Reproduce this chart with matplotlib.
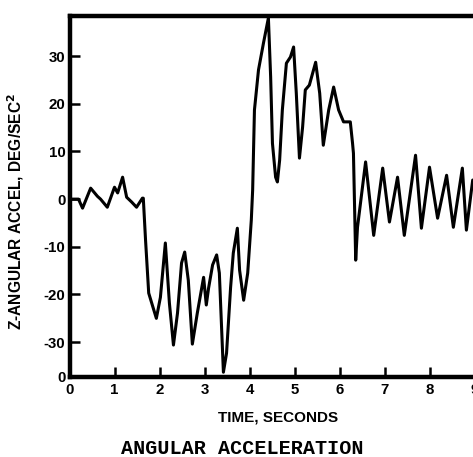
import matplotlib
matplotlib.use("Agg")
import matplotlib.pyplot as plt

# Data
time_s = [0.00, 0.20, 0.29, 0.47, 0.62, 0.69, 0.84, 1.00, 1.07, 1.18, 1.27, 1.38,
          1.49, 1.62, 1.64, 1.69, 1.76, 1.84, 1.93, 2.02, 2.13, 2.22, 2.31, 2.40,
          2.49, 2.56, 2.64, 2.73, 2.84, 2.98, 3.04, 3.09, 3.18, 3.27, 3.33, 3.42,
          3.49, 3.58, 3.64, 3.73, 3.78, 3.87, 3.96, 4.04, 4.07, 4.11, 4.20, 4.31,
          4.42, 4.47, 4.51, 4.58, 4.62, 4.67, 4.73, 4.82, 4.91, 4.98, 5.04, 5.11,
          5.18, 5.24, 5.33, 5.47, 5.56, 5.64, 5.76, 5.87, 5.98, 6.09, 6.24, 6.29,
          6.31, 6.36, 6.40, 6.58, 6.76, 6.96, 7.11, 7.29, 7.44, 7.69, 7.82, 8.00,
          8.18, 8.38, 8.53, 8.73, 8.82, 8.96]
accel = [0.0, 0.0, -1.9, 2.3, 0.6, 0.0, -1.7, 2.5, 1.3, 4.6, 0.4, -0.6,
         -1.7, 0.2, 0.2, -8.6, -19.7, -22.2, -25.0, -20.6, -9.2, -21.8, -30.6, -23.9,
         -13.4, -11.1, -17.0, -30.4, -23.9, -16.4, -22.2, -18.7, -13.8, -11.7, -15.5, -36.3,
         -32.3, -18.5, -11.3, -6.1, -14.9, -21.2, -15.5, -4.4, 1.9, 18.7, 27.1, 32.7,
         38.0, 25.6, 11.7, 4.6, 3.6, 8.2, 18.7, 28.5, 29.8, 31.9, 22.2, 8.6,
         15.1, 22.9, 23.9, 28.7, 22.2, 11.3, 18.7, 23.5, 18.7, 16.2, 16.2, 11.7,
         9.6, -12.8, -5.9, 7.8, -7.6, 6.5, -4.8, 4.6, -7.6, 9.2, -6.1, 6.7,
         -4.0, 5.0, -5.9, 6.5, -6.5, 4.0]

x_ticks = [0, 1, 2, 3, 4, 5, 6, 7, 8, 9]
x_tick_labels = ["0", "1", "2", "3", "4", "5", "6", "7", "8", "9"]
y_ticks = [-37.3, -30, -20, -10, 0, 10, 20, 30]
y_tick_labels = ["0", "-30", "-20", "-10", "0", "10", "20", "30"]

W, H = 473, 457
fig = plt.figure(figsize=(W / 100, H / 100), dpi=100)
left_px, top_px, bottom_px = 69.5, 16, 377
right_px = left_px + 45 * 9.2
ax = fig.add_axes([left_px / W, 1 - bottom_px / H, (right_px - left_px) / W,
                   (bottom_px - top_px) / H])

ax.plot(time_s, accel, color="black", lw=2.2, solid_joinstyle="round",
        solid_capstyle="round")
ax.set_xlim(0, 9.2)
ax.set_ylim(-37.3, 38.4)

for side in ["left", "bottom", "top", "right"]:
    ax.spines[side].set_linewidth(3.2)
    ax.spines[side].set_color("black")

bold = dict(family="Liberation Sans", weight="bold", size=10.8)
ax.set_xticks(x_ticks)
ax.set_xticklabels(x_tick_labels, **bold)
ax.set_yticks(y_ticks)
ax.set_yticklabels(y_tick_labels, **bold)
ax.tick_params(direction="in", length=7, width=1.8, pad=4)
ax.tick_params(axis="y", pad=3)

fig.text(16 / W, 1 - 212 / H, "Z-ANGULAR ACCEL, DEG/SEC$^\\mathbf{2}$",
         family="Liberation Sans", weight="bold", size=11.2, rotation=90,
         ha="center", va="center")
fig.text(278 / W, 1 - 418 / H, "TIME, SECONDS", family="Liberation Sans",
         weight="bold", size=11, ha="center", va="center")
fig.text(242 / W, 1 - 449 / H, "ANGULAR ACCELERATION", family="Liberation Mono",
         weight="bold", size=14.5, ha="center", va="center")

fig.savefig("out.png", dpi=100)
